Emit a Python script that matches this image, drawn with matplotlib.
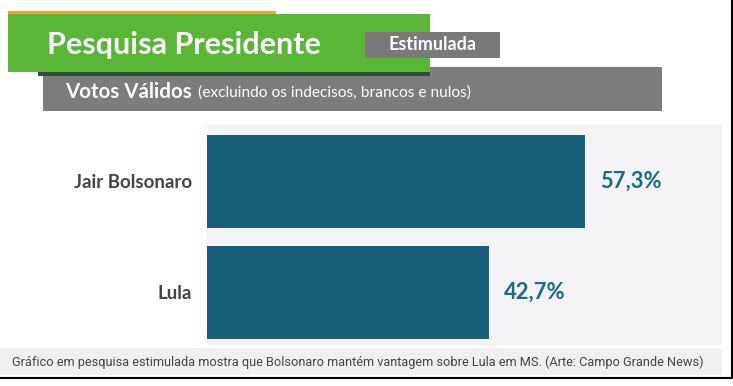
import matplotlib
matplotlib.use("Agg")
from matplotlib import pyplot as plt
from matplotlib.patches import Rectangle

# data
candidates = ["Jair Bolsonaro", "Lula"]
votes = [57.3, 42.7]
value_labels = ["57,3%", "42,7%"]

title = "Pesquisa Presidente"
tag = "Estimulada"
subtitle_bold = "Votos Válidos"
subtitle_rest = "(excluindo os indecisos, brancos e nulos)"
caption = "Gráfico em pesquisa estimulada mostra que Bolsonaro mantém vantagem sobre Lula em MS. (Arte: Campo Grande News)"

W, H = 733, 386
barColor = "#17627a"
labelColor = "#1d6a84"
fontName = "Lato"

fig = plt.figure(figsize=(W / 100, H / 100), dpi=100)
fig.patch.set_facecolor("white")

# background axes in pixel coordinates for the banner pieces
bg = fig.add_axes([0, 0, 1, 1])
bg.set_xlim(0, W)
bg.set_ylim(H, 0)
bg.axis("off")

def box(x0, y0, x1, y1, color, z=1):
    bg.add_patch(Rectangle((x0, y0), x1 - x0, y1 - y0, color=color, lw=0, zorder=z))

box(8, 11, 276, 15, "#eea63c", 2)          # orange strip
box(38, 72, 430, 76, "#2f4f33", 2)         # green shadow
box(8, 14, 430, 72, "#5ab636", 3)          # green title block
box(43, 67, 662, 111, "#7d7c7d", 1)        # grey subtitle bar
box(365, 32, 500, 58, "#7a797a", 4)        # Estimulada tag
box(0, 348, 722, 375, "#f0f0f0", 1)        # caption background
bg.plot([0, 732, 732], [378, 378, 0], color="black", lw=1.5, zorder=5)

bg.text(47, 45, title, color="white", fontsize=22, fontweight="bold",
        family=fontName, va="center", ha="left", zorder=5)
bg.text(432, 45, tag, color="white", fontsize=13, fontweight="bold",
        family=fontName, va="center", ha="center", zorder=5)
bg.text(65, 92, subtitle_bold, color="white", fontsize=14.8, fontweight="bold",
        family=fontName, va="center", ha="left", zorder=5)
bg.text(198, 93, subtitle_rest, color="white", fontsize=11.2,
        family=fontName, va="center", ha="left", zorder=5)
bg.text(12, 362, caption, color="#444444", fontsize=9.2,
        family="Roboto", va="center", ha="left", zorder=5)

# bar chart area
ax = fig.add_axes([207 / W, 1 - 345 / H, 515 / W, 220 / H])
ax.set_facecolor("#f3f2f4")
yPos = list(range(len(candidates)))
ax.barh(yPos, votes, height=0.84, color=barColor)
ax.set_xlim(0, 78)
ax.set_ylim(1.473, -0.509)
ax.set_yticks(yPos)
ax.set_yticklabels(candidates, fontsize=13.5, fontweight="bold", family=fontName, color="#444444")
ax.tick_params(axis="y", length=0, pad=11)
ax.set_xticks([])
for s in ax.spines.values():
    s.set_visible(False)

for y, v, lab in zip(yPos, votes, value_labels):
    ax.text(v + 2.2, y, lab, color=labelColor, fontsize=15.8, fontweight="bold",
            family=fontName, va="center", ha="left")

fig.savefig("out.png", dpi=100)
